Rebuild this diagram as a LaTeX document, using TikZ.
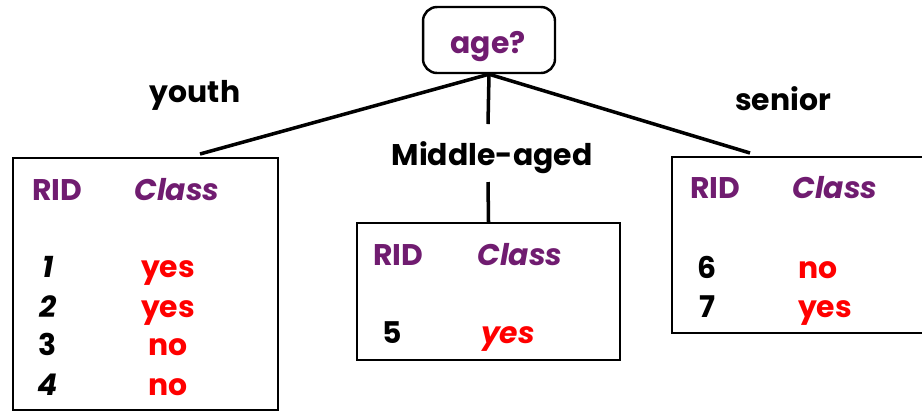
\documentclass[tikz,border=0pt]{standalone}
\usepackage{fontspec}
\setmainfont{Poppins}
\usetikzlibrary{positioning}
\definecolor{attrpurple}{RGB}{112,28,112}
\definecolor{valred}{RGB}{255,0,0}
\begin{document}
\begin{tikzpicture}[x=0.02cm,y=-0.02cm,
  font=\fontsize{17}{20}\selectfont\bfseries,
  partbox/.style={draw,line width=1.4pt,inner sep=0pt},
  cell/.style={anchor=base,inner sep=0pt},
  head/.style={cell,text=attrpurple},
  val/.style={cell,text=valred},
  branch/.style={line width=2pt}]
\useasboundingbox (0,0) rectangle (922,414);
% root test and the three partitions
\node[partbox,rounded corners=8pt,minimum width=2.64cm,minimum height=1.32cm] (age) at (489,40) {};
\node[head] (agetxt) at (488,53) {age?};
\node[partbox,minimum width=5.3cm,minimum height=5.04cm] (youthbox) at (145.5,284) {};
\node[partbox,minimum width=5.26cm,minimum height=2.74cm] (midbox) at (488.5,291.5) {};
\node[partbox,minimum width=5.2cm,minimum height=3.52cm] (seniorbox) at (802,245) {};
% branch labels
\node[cell] (youth) at (195,102) {youth};
\node[cell] (middle) at (492,165) {Middle-aged};
\node[cell] (senior) at (783,110) {senior};
% branches
\coordinate (yend) at (200,154);
\coordinate (mend) at (488,124);
\coordinate (mstart) at (488,182);
\coordinate (send) at (750,153);
\draw[branch] (age.south) -- (yend);
\draw[branch] (age.south) -- (mend);
\draw[branch] (mstart) -- (midbox.north);
\draw[branch] (age.south) -- (send);
% youth partition
\node[head] (rid1) at (57,200) {RID};
\node[head] (cls1) at (177,200) {\itshape Class};
\foreach \r/\s/\c/\y in {1/\itshape/yes/277,2/\itshape/yes/317,3//no/355,4/\itshape/no/395}{
  \node[cell] (y\r) at (48,\y) {\s\r};
  \node[val] (yc\r) at (168,\y) {\c};
}
% middle-aged partition
\node[head] (rid2) at (398,265) {RID};
\node[head] (cls2) at (520,265) {\itshape Class};
\node[cell] (m5) at (392,343) {5};
\node[val] (mc5) at (508,343) {\itshape yes};
% senior partition
\node[head] (rid3) at (715,198) {RID};
\node[head] (cls3) at (835,198) {\itshape Class};
\node[cell] (s6) at (707,278) {6};
\node[val] (sc6) at (818,278) {no};
\node[cell] (s7) at (707,317) {7};
\node[val] (sc7) at (825,317) {yes};
\end{tikzpicture}
\end{document}
